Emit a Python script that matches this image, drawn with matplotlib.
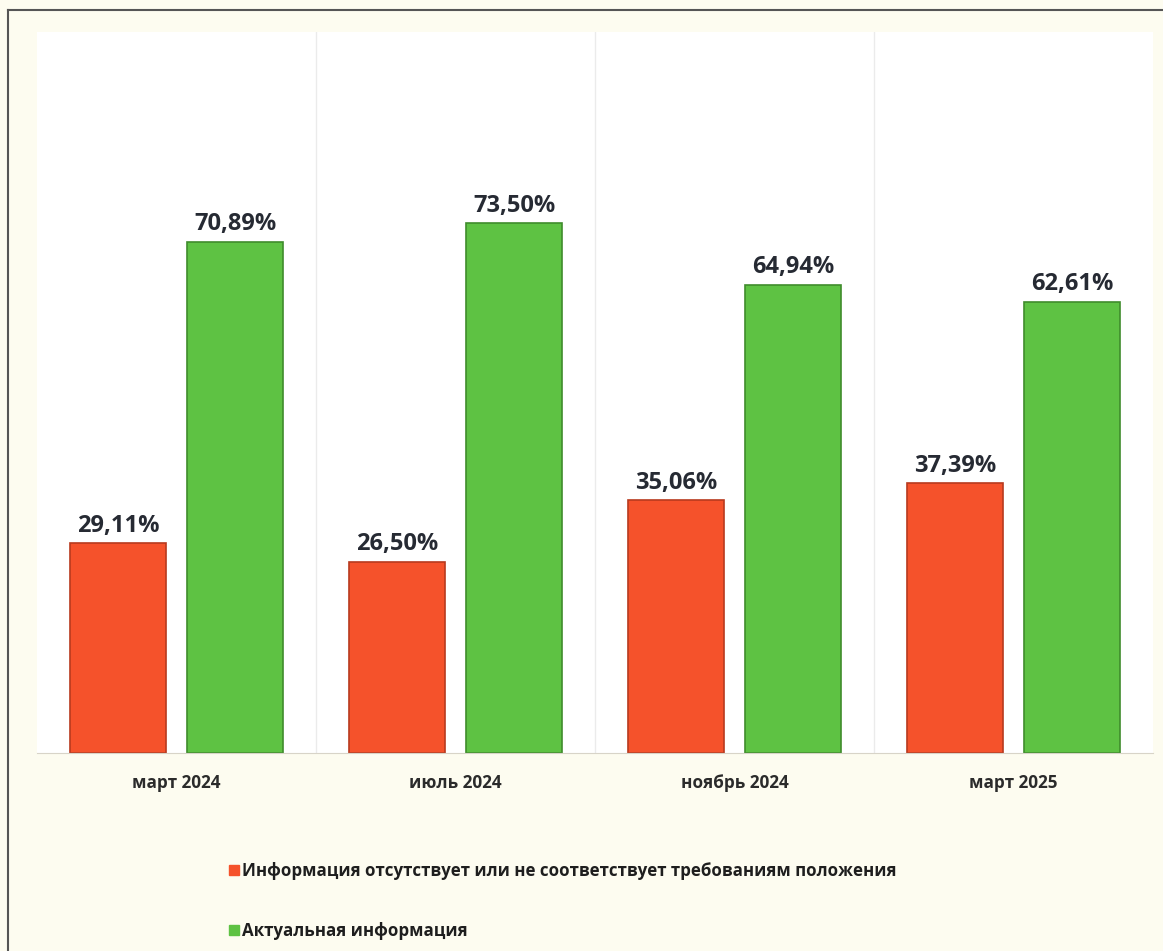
import numpy as np
import matplotlib.pyplot as plt
from matplotlib.lines import Line2D

plt.rcParams['font.family'] = ['Open Sans', 'DejaVu Sans']

periods = ["март 2024", "июль 2024", "ноябрь 2024", "март 2025"]
missing = [29.11, 26.50, 35.06, 37.39]
actual = [70.89, 73.50, 64.94, 62.61]
series_names = ["Информация отсутствует или не соответствует требованиям положения",
                "Актуальная информация"]
red = "#f5522b"
green = "#5ec243"

W, H = 1163, 951
fig = plt.figure(figsize=(W / 100, H / 100), dpi=100)
fig.patch.set_facecolor("#fdfcf0")

# plot area in pixels
left, right, top, bottom = 37, 1153, 32, 753
ax = fig.add_axes([left / W, 1 - bottom / H, (right - left) / W, (bottom - top) / H])
ax.set_facecolor("white")

x = np.arange(len(periods))
bw = 0.345
off = 0.21
b1 = ax.bar(x - off, missing, bw, color=red, edgecolor="#b83a1e", linewidth=1.2)
b2 = ax.bar(x + off, actual, bw, color=green, edgecolor="#3f8c2c", linewidth=1.2)

for bars, vals in ((b1, missing), (b2, actual)):
    for b, v in zip(bars, vals):
        ax.annotate(f"{v:.2f}%".replace(".", ","), (b.get_x() + b.get_width() / 2, v),
                    xytext=(0, 4), textcoords="offset points", ha="center", va="bottom",
                    fontsize=17, fontweight="bold", color="#262a33")

ax.set_xlim(-0.5, len(periods) - 0.5)
ax.set_ylim(0, 100)
ax.set_yticks([])
ax.set_xticks(x)
ax.set_xticklabels(periods, fontsize=12.3, fontweight="bold", color="#2b2b2b")
ax.tick_params(axis="x", length=0, pad=15)
for s in ["top", "right", "left"]:
    ax.spines[s].set_visible(False)
ax.spines["bottom"].set_color("#d8d4c8")
for sep in x[:-1] + 0.5:
    ax.axvline(sep, color="#ebebeb", linewidth=1)

handles = [Line2D([], [], marker="s", linestyle="", markersize=6.5, color=red),
           Line2D([], [], marker="s", linestyle="", markersize=6.5, color=green)]
fig.legend(handles, series_names, loc="upper left", bbox_to_anchor=(214 / W, 1 - 847 / H),
           frameon=False, handlelength=0.6, handletextpad=0.15, labelspacing=2.45,
           prop={"size": 12.2, "weight": "bold"}, labelcolor="#1e1e1e")

# outer frame: only left and top lines
fig.add_artist(Line2D([8 / W, 8 / W], [0, 1 - 10 / H], transform=fig.transFigure,
                      color="#555555", linewidth=1.5))
fig.add_artist(Line2D([8 / W, 1], [1 - 10 / H, 1 - 10 / H], transform=fig.transFigure,
                      color="#555555", linewidth=1.5))

fig.savefig("out.png", dpi=100, facecolor=fig.get_facecolor())
